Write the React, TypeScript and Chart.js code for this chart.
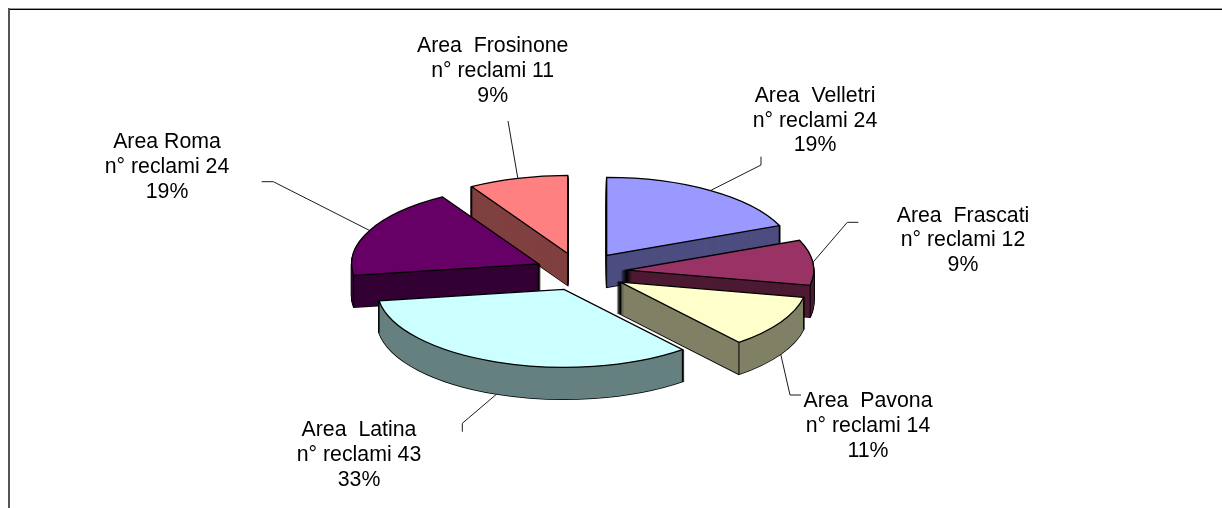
import React, { useEffect, useRef } from "react";
import { Chart, registerables } from "chart.js";

Chart.register(...registerables);

const areas = ["Area  Velletri", "Area  Frascati", "Area  Pavona", "Area  Latina", "Area Roma", "Area  Frosinone"];
const reclami = [24, 12, 14, 43, 24, 11];
const percentLabels = ["19%", "9%", "11%", "33%", "19%", "9%"];
const topColors = ["#9999FF", "#993366", "#FFFFCC", "#CCFFFF", "#660066", "#FF8080"];
const wallColors = ["#4D4D80", "#4D1A33", "#808066", "#668080", "#330033", "#804040"];
const explode = [48, 47, 47, 44.5, 45.7, 46.2];
const paintOrder = [5, 0, 4, 1, 2, 3];

const W = 1222;
const H = 508;
const RADIUS = 187;
const SQUASH = 0.417;
const DEPTH = 32;
const EDGE = 1.3;
const FONT = '21.3px "Liberation Sans", Arial, sans-serif';
const LINE_GAP = 24.8;
const labelCenters = [815, 963, 868, 359, 167, 492.7];
const labelBaselines = [101.7, 221.5, 407.3, 436, 148.3, 52.3];
const leaderBends: number[][][] = [
  [[761, 165], [761, 156.7]],
  [[847.3, 222.3], [858.3, 222.3]],
  [[790, 395], [801, 395]],
  [[462.3, 423.3], [462.3, 431.7]],
  [[273.3, 181.7], [261.7, 181.7]],
  [[508, 121]],
];

function apexOf(arc: any, i: number) {
  const mid = (arc.startAngle + arc.endAngle) / 2;
  return { x: arc.x + Math.cos(mid) * explode[i], y: arc.y + Math.sin(mid) * explode[i] * SQUASH, mid };
}

function drawFace(ctx: any, arc: any, x: number, y: number, opts: any) {
  const saved = arc.options;
  const proto = CanvasRenderingContext2D.prototype;
  ctx.save();
  ctx.translate(x, y);
  ctx.scale(1, SQUASH);
  ctx.translate(-arc.x, -arc.y);
  arc.options = { ...saved, ...opts };
  ctx.stroke = function () {
    ctx.save();
    ctx.setTransform(1, 0, 0, 1, 0, 0);
    proto.stroke.call(ctx);
    ctx.restore();
  };
  arc.draw(ctx);
  delete ctx.stroke;
  arc.options = saved;
  ctx.restore();
}

const pie3d = {
  id: "pie3d",
  beforeDatasetsDraw(chart: any) {
    const ctx = chart.ctx;
    const arcs = chart.getDatasetMeta(0).data;
    for (const i of paintOrder) {
      const arc = arcs[i];
      const a = apexOf(arc, i);
      for (let d = DEPTH; d >= 1; d--) {
        drawFace(ctx, arc, a.x, a.y + d, {
          backgroundColor: "rgba(0,0,0,0)",
          borderColor: "#000000",
          borderWidth: 1.5,
        });
      }
      for (let d = DEPTH; d >= 1; d--) {
        drawFace(ctx, arc, a.x, a.y + d, {
          backgroundColor: wallColors[i],
          borderWidth: 0,
        });
      }
      ctx.save();
      ctx.strokeStyle = "#000000";
      ctx.lineWidth = 1;
      const corners = [
        [a.x, a.y],
        [a.x + Math.cos(arc.startAngle) * RADIUS, a.y + Math.sin(arc.startAngle) * RADIUS * SQUASH],
        [a.x + Math.cos(arc.endAngle) * RADIUS, a.y + Math.sin(arc.endAngle) * RADIUS * SQUASH],
      ];
      for (const [cx, cy] of corners) {
        ctx.beginPath();
        ctx.moveTo(cx, cy);
        ctx.lineTo(cx, cy + DEPTH);
        ctx.stroke();
      }
      ctx.restore();
      drawFace(ctx, arc, a.x, a.y, {});
    }
    return false;
  },
  afterDraw(chart: any) {
    const ctx = chart.ctx;
    const arcs = chart.getDatasetMeta(0).data;
    ctx.save();
    ctx.fillStyle = "#9a9a9a";
    ctx.fillRect(8, 8, W - 8, 1);
    ctx.fillStyle = "#000000";
    ctx.fillRect(8, 9, W - 8, 1);
    ctx.fillStyle = "#555555";
    ctx.fillRect(8, 8, 2, H - 8);
    ctx.strokeStyle = "#1a1a1a";
    ctx.lineWidth = 1;
    arcs.forEach((arc: any, i: number) => {
      const a = apexOf(arc, i);
      const sx = a.x + Math.cos(a.mid) * RADIUS;
      const frontFace = Math.sin(a.mid) > 0.3;
      const sy = a.y + Math.sin(a.mid) * RADIUS * SQUASH + (frontFace ? DEPTH : 0);
      ctx.beginPath();
      ctx.moveTo(sx, sy);
      for (const [px, py] of leaderBends[i]) ctx.lineTo(px, py);
      ctx.stroke();
    });
    ctx.fillStyle = "#000000";
    ctx.font = FONT;
    ctx.textAlign = "center";
    ctx.textBaseline = "alphabetic";
    areas.forEach((name, i) => {
      const lines = [name, `n° reclami ${reclami[i]}`, percentLabels[i]];
      lines.forEach((t, j) => ctx.fillText(t, labelCenters[i], labelBaselines[i] + j * LINE_GAP));
    });
    ctx.restore();
  },
};

export default function App() {
  const ref = useRef<HTMLCanvasElement>(null);
  useEffect(() => {
    const chart = new Chart(ref.current as HTMLCanvasElement, {
      type: "pie",
      data: {
        labels: areas,
        datasets: [
          {
            data: reclami,
            backgroundColor: topColors,
            borderColor: "#000000",
            borderWidth: EDGE,
            borderJoinStyle: "miter",
          },
        ],
      },
      options: {
        responsive: false,
        animation: false,
        radius: RADIUS,
        events: [],
        layout: { padding: { left: 0, right: 62, top: 36, bottom: 0 } },
        plugins: { legend: { display: false }, tooltip: { enabled: false }, title: { display: false } },
      },
      plugins: [pie3d],
    } as any);
    return () => chart.destroy();
  }, []);
  return (
    <canvas
      ref={ref}
      width={W}
      height={H}
      style={{ position: "fixed", left: 0, top: 0, width: W, height: H, display: "block", background: "#ffffff" }}
    />
  );
}
